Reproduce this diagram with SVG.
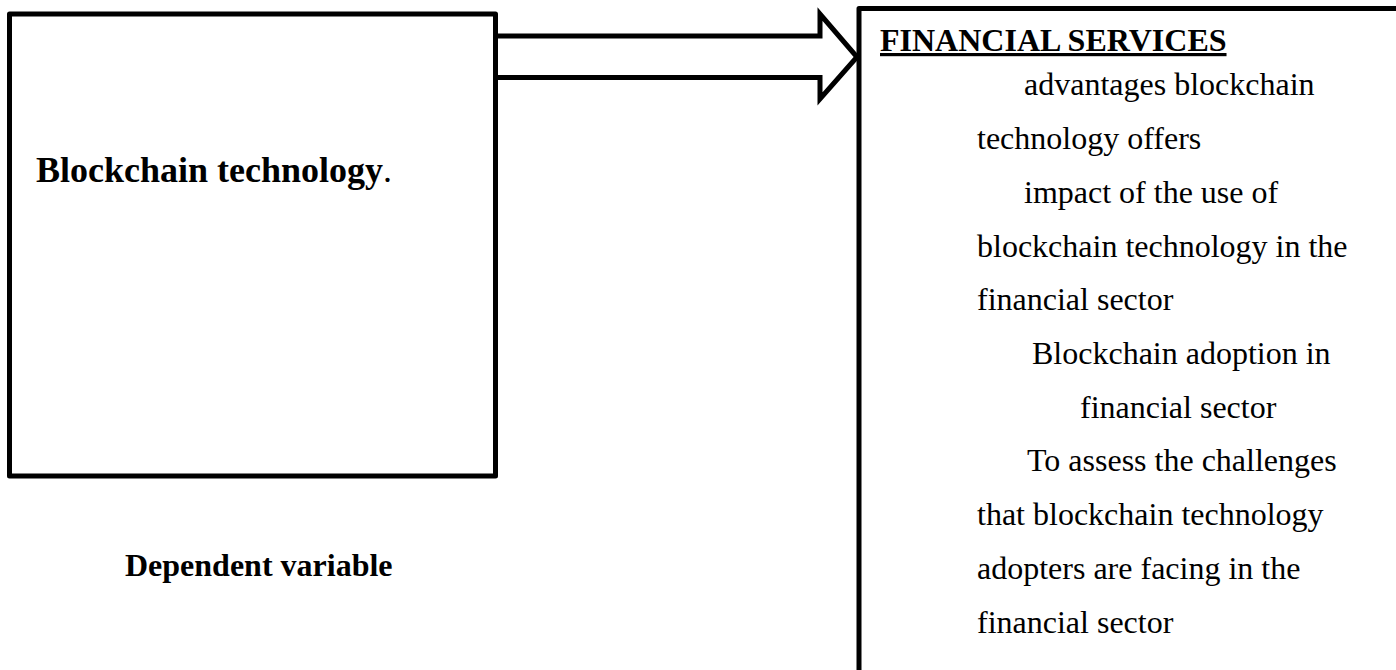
<svg xmlns="http://www.w3.org/2000/svg" width="1396" height="670" viewBox="0 0 1396 670">
<style>
.box{fill:#fff;stroke:#000;stroke-width:5;stroke-linejoin:round}
.arrow{fill:#fff;stroke:#000;stroke-width:5;stroke-linejoin:miter}
.t{font-family:"Liberation Serif","Times New Roman",serif;font-size:32px;fill:#000}
.b{font-weight:bold}
</style>
<rect width="1396" height="670" fill="#fff"/>
<g id="connectors">
<path class="arrow" d="M495,36 L820,36 L820,14 L857,57 L820,99 L820,77.5 L495,77.5"/>
</g>
<g id="node-blockchain">
<rect class="box" x="9.5" y="14" width="486" height="462"/>
<text class="t" x="36" y="182" style="font-size:36px"><tspan class="b">Blockchain technology</tspan>.</text>
</g>
<g id="label-dependent">
<text class="t b" x="125" y="576">Dependent variable</text>
</g>
<g id="node-financial">
<rect class="box" x="859" y="8.5" width="600" height="700"/>
<text class="t b" x="880" y="51" text-decoration="underline">FINANCIAL SERVICES</text>
<text class="t" x="1024" y="95">advantages blockchain</text>
<text class="t" x="977" y="149">technology offers</text>
<text class="t" x="1024" y="203">impact of the use of</text>
<text class="t" x="977" y="257">blockchain technology in the</text>
<text class="t" x="977" y="310">financial sector</text>
<text class="t" x="1032" y="364">Blockchain adoption in</text>
<text class="t" x="1080" y="418">financial sector</text>
<text class="t" x="1027" y="471">To assess the challenges</text>
<text class="t" x="977" y="525">that blockchain technology</text>
<text class="t" x="977" y="579">adopters are facing in the</text>
<text class="t" x="977" y="633">financial sector</text>
</g>
</svg>
